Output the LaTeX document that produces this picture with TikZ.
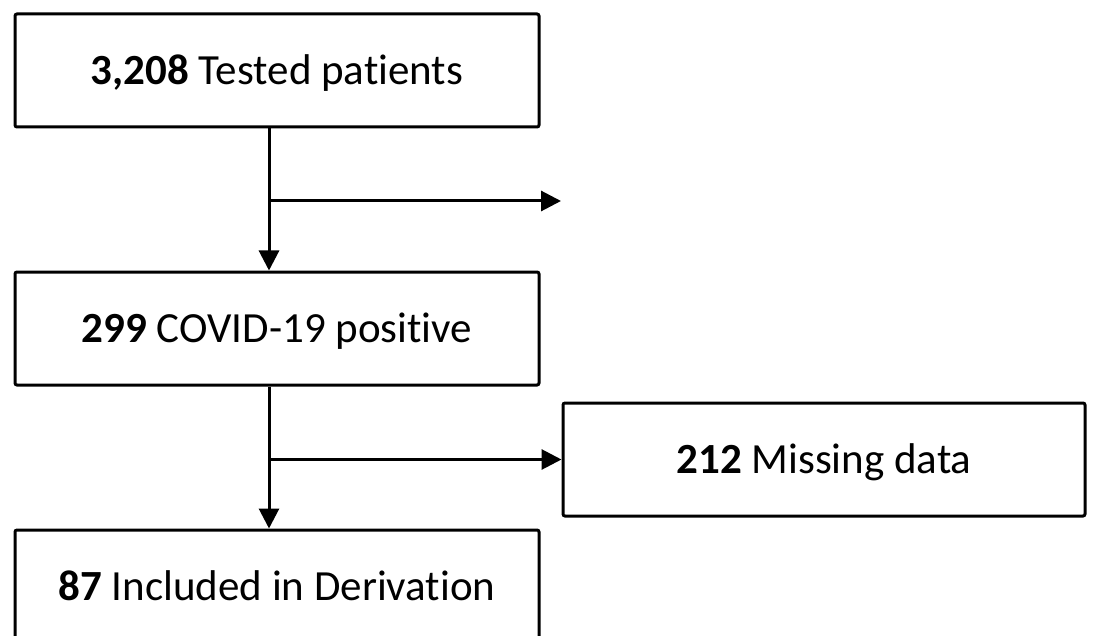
\documentclass[tikz,border=0pt]{standalone}
\usepackage{fontspec}
\setmainfont{Carlito}[Ligatures=NoCommon]
\usetikzlibrary{arrows.meta}
\begin{document}
\begin{tikzpicture}[x=1pt,y=-1pt,
  box/.style={draw=black, line width=3pt, rounded corners=2pt, minimum width=524pt, minimum height=113pt, inner sep=0pt, text height=34pt, text depth=6pt, font=\fontsize{43}{50}\selectfont, text=black},
  arr/.style={line width=3pt, -{Triangle[length=20pt,width=20pt]}}]
\useasboundingbox (0,0) rectangle (1094,636);
\clip (0,0) rectangle (1094,636);
\fill[white] (0,0) rectangle (1094,636);
\node[box] (b1) at (277,70.5) {\textbf{3,208} Tested patients};
\node[box] (b2) at (277,328.5) {\textbf{299} COVID-19 positive};
\node[box] (b3) at (277,586.5) {\textbf{87} Included in Derivation};
\node[box, minimum width=522pt] (r) at (824,459.5) {\textbf{212} Missing data};
\coordinate (j1) at (269,201);
\coordinate (e1) at (561,201);
\coordinate (j2) at (269,459.5);
\draw[arr] (b1.south -| j1) -- (b2.north -| j1);
\draw[arr] (j1) -- (e1);
\draw[arr] (b2.south -| j2) -- (b3.north -| j2);
\draw[arr] (j2) -- (r.west);
\end{tikzpicture}
\end{document}
